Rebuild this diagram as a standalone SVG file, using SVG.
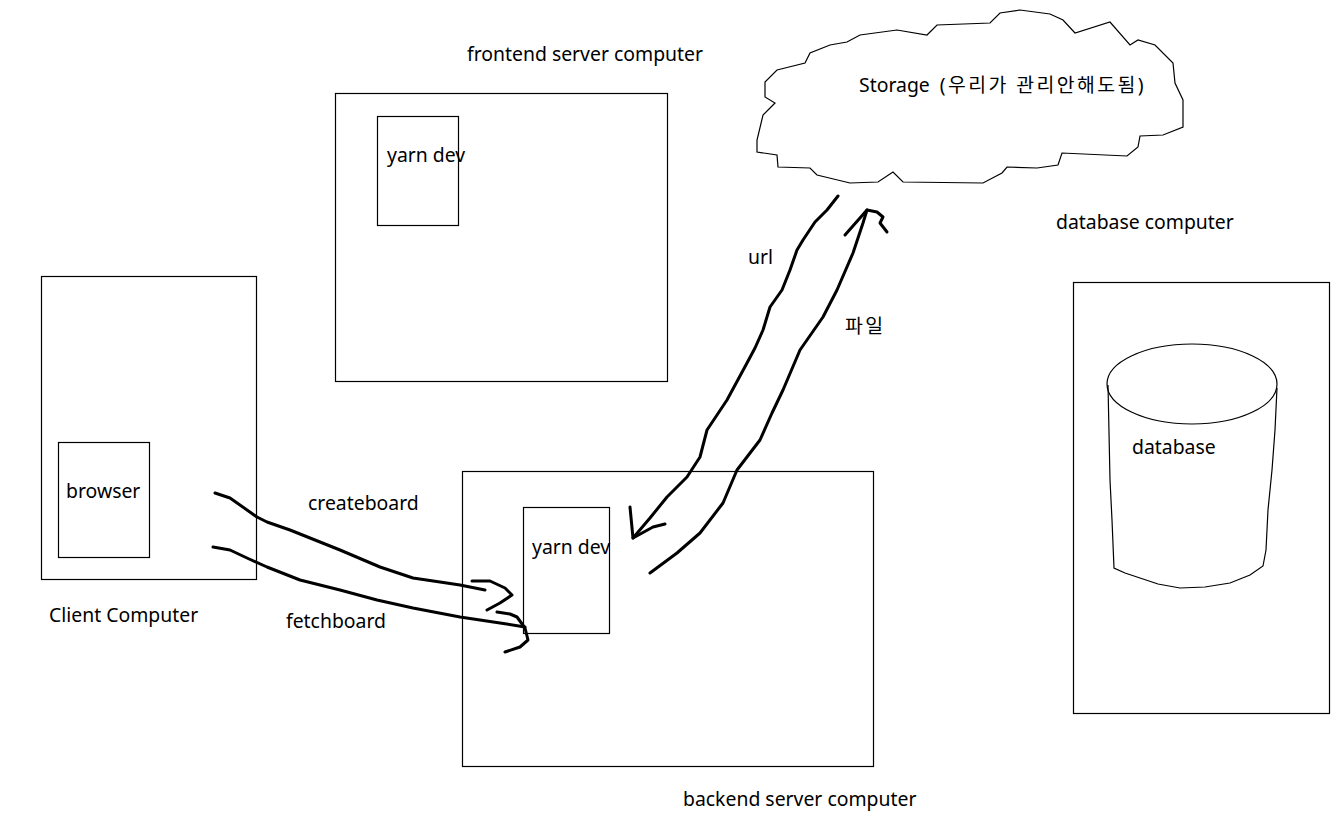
<svg xmlns="http://www.w3.org/2000/svg" width="1344" height="840" viewBox="0 0 1344 840">
<style>
.box{fill:none;stroke:#000;stroke-width:1.2}
.t{font-family:"Noto Sans","Noto Sans CJK KR",sans-serif;font-size:19.4px;fill:#000}
.ko{letter-spacing:2.4px}
.pen{fill:none;stroke:#000;stroke-width:3;stroke-linecap:round;stroke-linejoin:round}
</style>
<rect width="1344" height="840" fill="#fff"/>
<g id="frontend">
<rect class="box" x="335.5" y="93.5" width="332" height="288"/>
<text class="t" x="467" y="61">frontend server computer</text>
</g>
<g id="frontend-yarn">
<rect class="box" x="377.5" y="116.5" width="81" height="109"/>
<text class="t" x="387" y="162">yarn dev</text>
</g>
<g id="client">
<rect class="box" x="41.5" y="276.5" width="215" height="303"/>
<text class="t" x="49" y="622">Client Computer</text>
</g>
<g id="browser">
<rect class="box" x="58.5" y="442.5" width="91" height="115"/>
<text class="t" x="66" y="498">browser</text>
</g>
<g id="backend">
<rect class="box" x="462.5" y="471.5" width="411" height="295"/>
<text class="t" x="683" y="806">backend server computer</text>
</g>
<g id="backend-yarn">
<rect class="box" x="523.5" y="507.5" width="86" height="126"/>
<text class="t" x="532" y="554">yarn dev</text>
</g>
<g id="database-computer">
<rect class="box" x="1073.5" y="282.5" width="256" height="431"/>
<text class="t" x="1056" y="229">database computer</text>
</g>
<g id="database">
<ellipse class="box" cx="1192" cy="384" rx="85" ry="40"/>
<path class="box" d="M1108,385 L1110,480 L1112,520 L1114,568 L1125,573 L1140,578 L1158,584 L1180,588 L1205,587 L1230,583 L1250,575 L1263,566 L1266,550 L1268,510 L1272,470 L1275,430 L1277,388"/>
<text class="t" x="1132" y="454">database</text>
</g>
<g id="storage">
<path class="box" d="M777,70 L805,63 L810,53 L830,45 L847,42 L860,35 L897,30 L927,35 L937,25 L990,23 L1000,13 L1020,10 L1050,14 L1063,20 L1075,33 L1110,22 L1130,45 L1138,40 L1155,45 L1173,63 L1175,83 L1183,100 L1183,127 L1163,135 L1140,136 L1138,147 L1127,156 L1062,153 L1058,165 L1037,168 L1007,167 L1002,173 L983,183 L903,182 L893,172 L878,182 L850,183 L817,175 L810,168 L778,167 L777,155 L757,152 L757,140 L763,115 L775,103 L765,97 L765,82 Z"/>
<text class="t" x="859" y="92" xml:space="preserve">Storage  <tspan class="ko">(우리가 관리안해도됨)</tspan></text>
</g>
<g id="connectors">
<path class="pen" d="M215,493 L230,498 L257,517 L267,522 L290,530 L310,538 L340,550 L380,567 L413,578 L440,582 L460,585 L485,590"/>
<path class="pen" d="M472,581 L490,581 L505,588 L512,595 L500,603 L487,610"/>
<path class="pen" d="M213,547 L230,550 L247,558 L267,567 L300,580 L340,590 L377,600 L413,608 L460,617 L500,623 L525,627"/>
<path class="pen" d="M497,612 L510,614 L517,617 L525,628 L528,640 L520,647 L505,652"/>
<path class="pen" d="M838,196 L827,210 L815,222 L803,240 L797,250 L790,270 L782,290 L770,307 L763,330 L755,348 L747,363 L727,400 L707,430 L700,457 L687,477 L667,497 L650,518 L633,538"/>
<path class="pen" d="M630,507 L633,538 L653,527 L665,524"/>
<path class="pen" d="M650,573 L677,553 L700,533 L723,503 L737,470 L760,440 L772,413 L783,390 L800,350 L823,317 L837,290 L853,253 L863,223 L867,210"/>
<path class="pen" d="M845,235 L867,210 L877,212 L883,217 L880,223 L887,232"/>
<text class="t" x="748" y="264">url</text>
<text class="t ko" x="845" y="333">파일</text>
<text class="t" x="308" y="510">createboard</text>
<text class="t" x="286" y="628">fetchboard</text>
</g>
</svg>
